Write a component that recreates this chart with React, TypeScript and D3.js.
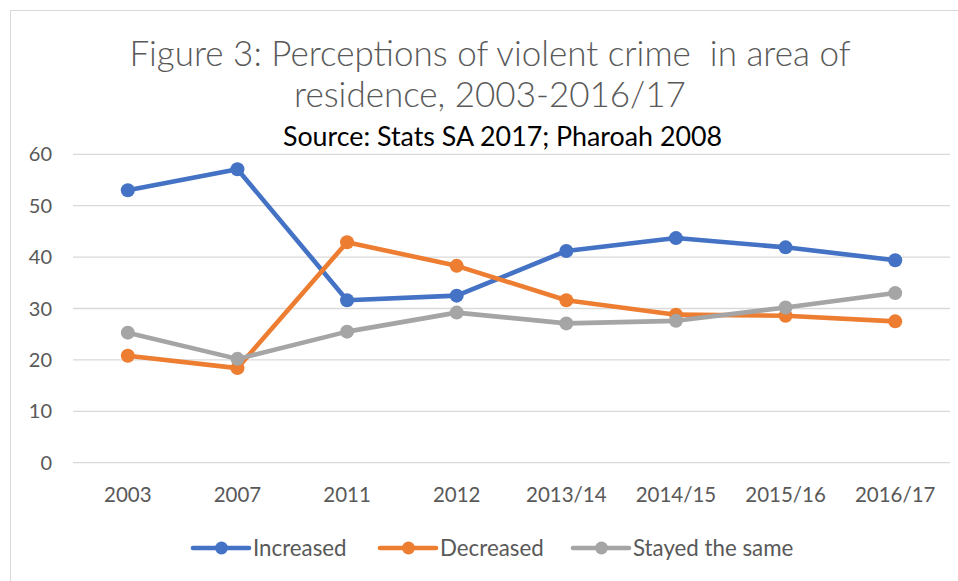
import React from "react";
import * as d3 from "d3";

const categories = ["2003", "2007", "2011", "2012", "2013/14", "2014/15", "2015/16", "2016/17"];
const increased = [53, 57.1, 31.6, 32.5, 41.2, 43.7, 41.9, 39.4];
const decreased = [20.8, 18.4, 42.9, 38.3, 31.6, 28.8, 28.6, 27.5];
const stayedSame = [25.3, 20.2, 25.5, 29.2, 27.1, 27.6, 30.2, 33.0];
const yTicks = [0, 10, 20, 30, 40, 50, 60];

const series = [
  { name: "Increased", values: increased, color: "#4472C4" },
  { name: "Decreased", values: decreased, color: "#ED7D31" },
  { name: "Stayed the same", values: stayedSame, color: "#A5A5A5" },
];

const W = 958;
const H = 581;
const font = "Lato, 'Open Sans', sans-serif";

export default function App() {
  const x = d3.scaleBand<string>().domain(categories).range([73, 950]);
  const y = d3.scaleLinear().domain([0, 60]).range([462.7, 154.3]);
  const line = d3
    .line<number>()
    .x((_, i) => (x(categories[i]) as number) + x.bandwidth() / 2)
    .y((d) => y(d));

  // legend positions (line start)
  const legendX = [193, 380, 573];

  return (
    <svg width={W} height={H} style={{ position: "absolute", left: 0, top: 0 }}>
      <rect x={0} y={0} width={W} height={H} fill="#fff" />
      <rect x={10.5} y={10.5} width={W} height={H} fill="none" stroke="#d9d9d9" strokeWidth={1} />

      <text x={490} y={66} textAnchor="middle" fontFamily={font} fontWeight={300} fontSize={35} fill="#595959">
        Figure 3: Perceptions of violent crime{"\u00a0 "}in area of
      </text>
      <text x={490} y={106.5} textAnchor="middle" fontFamily={font} fontWeight={300} fontSize={35} fill="#595959">
        residence, 2003-2016/17
      </text>
      <text x={502.5} y={146} textAnchor="middle" fontFamily={font} fontSize={26.8} fill="#000">
        Source: Stats SA 2017; Pharoah 2008
      </text>

      {yTicks.map((t) => (
        <g key={t}>
          <line x1={73} x2={950} y1={y(t)} y2={y(t)} stroke="#d9d9d9" strokeWidth={1.3} />
          <text x={52} y={y(t) + 7} textAnchor="end" fontFamily={font} fontSize={20} fill="#595959">
            {t}
          </text>
        </g>
      ))}

      {categories.map((c) => (
        <text
          key={c}
          x={(x(c) as number) + x.bandwidth() / 2}
          y={501.5}
          textAnchor="middle"
          fontFamily={font}
          fontSize={20.5}
          fill="#595959"
        >
          {c}
        </text>
      ))}

      {series.map((s) => (
        <g key={s.name}>
          <path d={line(s.values) ?? ""} fill="none" stroke={s.color} strokeWidth={4.6} strokeLinejoin="round" />
          {s.values.map((v, i) => (
            <circle
              key={i}
              cx={(x(categories[i]) as number) + x.bandwidth() / 2}
              cy={y(v)}
              r={7}
              fill={s.color}
            />
          ))}
        </g>
      ))}

      {series.map((s, i) => (
        <g key={s.name} transform={`translate(${legendX[i]},548)`}>
          <line x1={0} x2={56} y1={0} y2={0} stroke={s.color} strokeWidth={4.6} strokeLinecap="round" />
          <circle cx={28.5} cy={0} r={6.5} fill={s.color} />
          <text x={60} y={7.5} fontFamily={font} fontSize={22.3} fill="#595959">
            {s.name}
          </text>
        </g>
      ))}
    </svg>
  );
}
